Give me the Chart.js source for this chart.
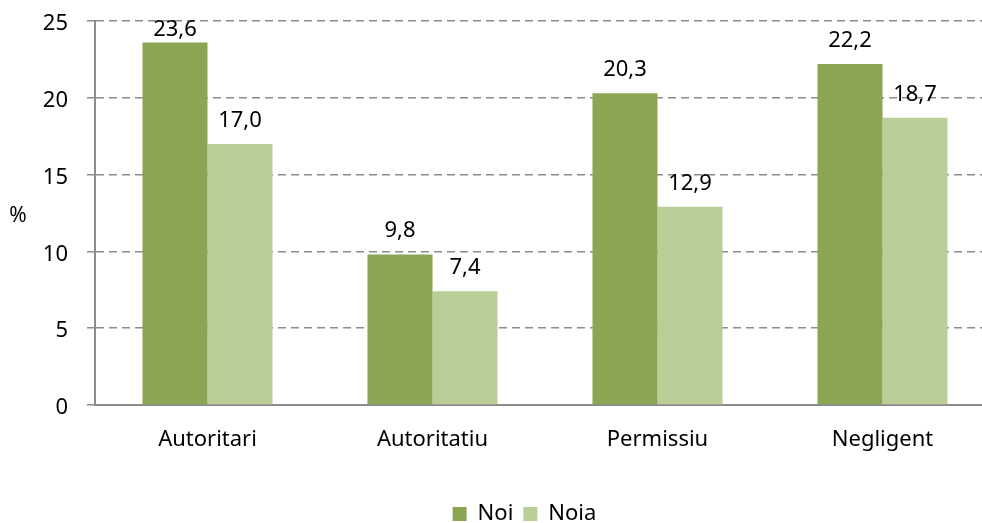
<!DOCTYPE html>
<html>
<head>
<meta charset="utf-8">
<script src="https://cdn.jsdelivr.net/npm/chart.js@4"></script>
<style>
  html, body { margin: 0; padding: 0; background: #fff; overflow: hidden; }
  #wrap { width: 996px; height: 523px; position: relative; }
</style>
</head>
<body>
<div id="wrap"><canvas id="chart"></canvas></div>
<script>
  var CATEGORIES = ['Autoritari', 'Autoritatiu', 'Permissiu', 'Negligent'];
  var NOI = [23.6, 9.8, 20.3, 22.2];
  var NOIA = [17.0, 7.4, 12.9, 18.7];
  var Y_TICKS = [0, 5, 10, 15, 20, 25];

  var FONT = "'Noto Sans', 'Open Sans', sans-serif";
  var C = {
    noi: '#8BA652',
    noia: '#BACE97',
    axis: '#8c8c8c',
    text: '#000'
  };

  function fmt(v) {
    return v.toFixed(1).replace('.', ',');
  }

  // value labels above each bar (kept inside the plot area, like Excel)
  var barLabels = {
    id: 'barLabels',
    afterDatasetsDraw: function (chart) {
      var ctx = chart.ctx;
      var top = chart.chartArea.top;
      ctx.save();
      ctx.font = '22px ' + FONT;
      ctx.fillStyle = C.text;
      ctx.textAlign = 'center';
      ctx.textBaseline = 'alphabetic';
      chart.data.datasets.forEach(function (ds, i) {
        chart.getDatasetMeta(i).data.forEach(function (bar, j) {
          var y = Math.max(bar.y - 17, top + 15);
          ctx.fillText(fmt(ds.data[j]), bar.x, y);
        });
      });
      ctx.restore();
    }
  };

  // horizontal "%" axis title
  var yTitle = {
    id: 'yTitle',
    afterDraw: function (chart) {
      var ctx = chart.ctx;
      var a = chart.chartArea;
      ctx.save();
      ctx.font = '21px ' + FONT;
      ctx.fillStyle = C.text;
      ctx.textAlign = 'center';
      ctx.textBaseline = 'middle';
      ctx.fillText('%', 18, (a.top + a.bottom) / 2 + 3);
      ctx.restore();
    }
  };

  // nudge the legend to where Excel put it
  var legendShift = {
    id: 'legendShift',
    afterLayout: function (chart) {
      var lg = chart.legend;
      if (!lg) return;
      lg.left += 27; lg.right += 27;
      lg.top += 12; lg.bottom += 12;
    }
  };

  Chart.defaults.font.family = FONT;
  Chart.defaults.color = C.text;

  new Chart(document.getElementById('chart'), {
    type: 'bar',
    data: {
      labels: CATEGORIES,
      datasets: [
        { label: 'Noi', data: NOI, backgroundColor: C.noi, categoryPercentage: 0.578, barPercentage: 1 },
        { label: 'Noia', data: NOIA, backgroundColor: C.noia, categoryPercentage: 0.578, barPercentage: 1 }
      ]
    },
    options: {
      responsive: true,
      maintainAspectRatio: false,
      animation: false,
      layout: { padding: { top: 21, right: 1, left: 0, bottom: 0 } },
      plugins: {
        legend: {
          position: 'bottom',
          labels: { boxWidth: 14, boxHeight: 14, font: { size: 22 }, padding: 10 }
        },
        tooltip: { enabled: false }
      },
      scales: {
        x: {
          grid: { display: false },
          border: { color: C.axis, width: 2 },
          ticks: { font: { size: 22 }, padding: 14 },
          afterFit: function (s) { s.height = 76; }
        },
        y: {
          min: 0,
          max: 25,
          afterBuildTicks: function (s) {
            s.ticks = Y_TICKS.map(function (v) { return { value: v }; });
          },
          afterFit: function (s) {
            s.width = 95;
            s.paddingTop = 0;
            s.paddingBottom = 0;
          },
          border: { color: C.axis, width: 2, dash: [8, 5] },
          grid: {
            color: C.axis,
            lineWidth: 1.5,
            tickLength: 8,
            tickColor: C.axis,
            tickBorderDash: [],
            drawTicks: true
          },
          ticks: { font: { size: 22 }, padding: 19, labelOffset: 3 }
        }
      }
    },
    plugins: [barLabels, yTitle, legendShift]
  });
</script>
</body>
</html>
